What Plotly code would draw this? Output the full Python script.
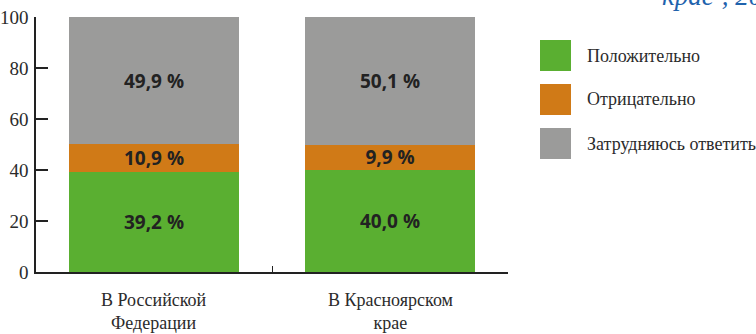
import plotly.graph_objects as go

# data
regions = ["В Российской<br>Федерации", "В Красноярском<br>крае"]
series = ["Положительно", "Отрицательно", "Затрудняюсь ответить"]
positive = [39.2, 40.0]
negative = [10.9, 9.9]
undecided = [49.9, 50.1]
colors = ["#5aaf31", "#d07a17", "#9b9b9a"]

# plot area in pixels (756x334 window)
L, R, T, B = 36, 508, 17, 272
W, H = 756, 334
SERIF = "Liberation Serif"


def px_x(p):
    return (p - L) / (R - L)


def px_y(p):
    return (B - p) / (B - T)


def fmt(v):
    return f"{v:.1f}".replace(".", ",") + " %"


fig = go.Figure()
for name, vals, col in zip(series, [positive, negative, undecided], colors):
    fig.add_trace(go.Bar(
        x=regions, y=vals, name=name, marker_color=col, marker_line_width=0,
        text=[fmt(v) for v in vals], textposition="inside",
        insidetextanchor="middle", textangle=0,
        textfont=dict(family="Open Sans", size=19, color="#222222", weight=700),
        showlegend=False,
    ))

fig.update_layout(
    barmode="stack", bargap=0.28,
    width=W, height=H,
    margin=dict(l=L, r=W - R, t=T, b=H - B),
    plot_bgcolor="white", paper_bgcolor="white",
    font=dict(family=SERIF, size=18, color="#2b2b2b"),
    uniformtext=dict(minsize=19, mode="show"),
)
fig.update_yaxes(range=[0, 100], tickvals=[0, 20, 40, 60, 80, 100],
                 showline=True, linecolor="#222222", linewidth=1.5,
                 ticks="inside", ticklen=12, tickcolor="#222222", tickwidth=1.5,
                 showgrid=False, zeroline=False, ticklabelstandoff=2,
                 automargin=False, tickfont=dict(family=SERIF, size=19))
fig.update_xaxes(showline=True, linecolor="#222222", linewidth=1.5,
                 ticks="inside", tickson="boundaries", ticklen=6,
                 tickcolor="#222222", tickwidth=1, showgrid=False,
                 showticklabels=False, automargin=False)

# category labels as annotations (serif, two lines)
for r in regions:
    fig.add_annotation(xref="x", yref="paper", x=r, y=px_y(288),
                       text=r, showarrow=False, xanchor="center", yanchor="top",
                       font=dict(family=SERIF, size=18, color="#2b2b2b"))

# legend drawn by hand with large swatches
for i, (name, col) in enumerate(zip(series, colors)):
    top = 40 + i * 44
    fig.add_shape(type="rect", xref="paper", yref="paper",
                  x0=px_x(540), x1=px_x(571), y0=px_y(top + 31), y1=px_y(top),
                  fillcolor=col, line_width=0)
    fig.add_annotation(xref="paper", yref="paper", x=px_x(585), y=px_y(top + 15.5),
                       text=name, showarrow=False, xanchor="left", yanchor="middle",
                       font=dict(family=SERIF, size=18, color="#2b2b2b"))

# title fragment at the top right, cut by the page edge as in the source
fig.add_annotation(xref="paper", yref="paper", x=px_x(660), y=px_y(13),
                   text="крае², 2016", showarrow=False, xanchor="left", yanchor="bottom",
                   font=dict(family=SERIF, size=27, color="#1f63ad", style="italic"))

fig.write_html("out.html", config={"displayModeBar": False},
               post_script="document.body.style.margin='0';")
